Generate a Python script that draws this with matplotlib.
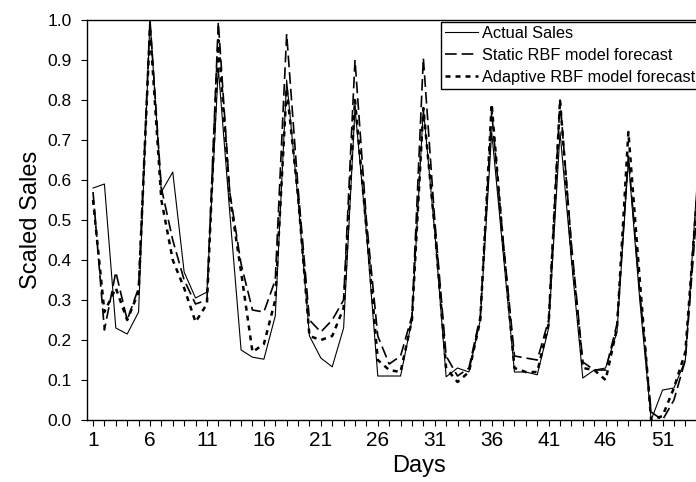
import matplotlib
matplotlib.use("Agg")
import matplotlib.pyplot as plt
from matplotlib.ticker import MultipleLocator, FixedLocator

plt.rcParams['font.family'] = ['Liberation Sans', 'DejaVu Sans']

days = list(range(1, 55))

actual = [0.58, 0.59, 0.23, 0.215, 0.27, 1.00, 0.57, 0.62, 0.37, 0.305,
          0.32, 0.88, 0.52, 0.175, 0.157, 0.152, 0.26, 0.85, 0.55, 0.21,
          0.155, 0.133, 0.23, 0.78, 0.47, 0.11, 0.11, 0.11, 0.25, 0.78,
          0.47, 0.108, 0.13, 0.12, 0.25, 0.72, 0.42, 0.12, 0.12, 0.113,
          0.23, 0.72, 0.40, 0.105, 0.125, 0.13, 0.22, 0.65, 0.30, 0.0,
          0.075, 0.08, 0.15, 0.58]

static = [0.57, 0.225, 0.37, 0.25, 0.33, 1.00, 0.58, 0.45, 0.35, 0.29,
          0.30, 0.995, 0.57, 0.39, 0.275, 0.27, 0.35, 0.965, 0.58, 0.25,
          0.22, 0.25, 0.30, 0.90, 0.50, 0.21, 0.14, 0.16, 0.26, 0.905,
          0.50, 0.16, 0.11, 0.13, 0.26, 0.77, 0.45, 0.16, 0.155, 0.15,
          0.25, 0.80, 0.44, 0.145, 0.125, 0.125, 0.24, 0.66, 0.32, 0.02,
          0.0, 0.05, 0.15, 0.52]

adaptive = [0.55, 0.27, 0.33, 0.25, 0.32, 0.98, 0.55, 0.40, 0.33, 0.245,
            0.29, 0.95, 0.56, 0.37, 0.17, 0.19, 0.30, 0.83, 0.56, 0.21,
            0.20, 0.21, 0.28, 0.80, 0.48, 0.15, 0.125, 0.12, 0.25, 0.78,
            0.48, 0.13, 0.095, 0.12, 0.25, 0.79, 0.44, 0.13, 0.12, 0.12,
            0.24, 0.80, 0.42, 0.13, 0.125, 0.10, 0.23, 0.72, 0.35, 0.0,
            0.01, 0.08, 0.17, 0.55]

fig = plt.figure(figsize=(6.96, 4.82), dpi=100)
ax = fig.add_axes([0.1246, 0.1286, 0.882, 0.8299])

ax.plot(days, actual, color='black', lw=0.8, ls='-', label='Actual Sales')
ax.plot(days, static, color='black', lw=1.2, ls=(0, (7, 3)),
        label='Static RBF model forecast')
ax.plot(days, adaptive, color='black', lw=1.8, ls=(0, (2, 2)),
        label='Adaptive RBF model forecast')

ax.set_xlim(0.447, 54.34)
ax.set_ylim(0, 1.0)
ax.xaxis.set_major_locator(FixedLocator(list(range(1, 55, 5))))
ax.xaxis.set_minor_locator(MultipleLocator(1))
ax.yaxis.set_major_locator(MultipleLocator(0.1))
ax.yaxis.set_major_formatter(matplotlib.ticker.FormatStrFormatter('%.1f'))
ax.tick_params(axis='both', which='both', direction='out', length=4,
               width=0.8)
ax.tick_params(axis='x', labelsize=15, pad=4)
ax.tick_params(axis='y', labelsize=12.5, pad=7)
ax.spines['right'].set_visible(False)
for s in ['left', 'bottom', 'top']:
    ax.spines[s].set_linewidth(1.0)

# the original plot is cropped on the right, so "Days" sits right of centre
ax.set_xlabel('Days', fontsize=17)
ax.xaxis.set_label_coords(0.541, -0.088)
ax.set_ylabel('Scaled Sales', fontsize=17, labelpad=4)

leg = ax.legend(loc='upper left', bbox_to_anchor=(0.5766, 0.995),
                fontsize=11.8, frameon=True, fancybox=False,
                edgecolor='black', framealpha=1, borderaxespad=0,
                handlelength=2.0, handletextpad=0.3, labelspacing=0.42,
                borderpad=0.25)
leg.get_frame().set_linewidth(1.0)

fig.savefig('out.png', dpi=100)
